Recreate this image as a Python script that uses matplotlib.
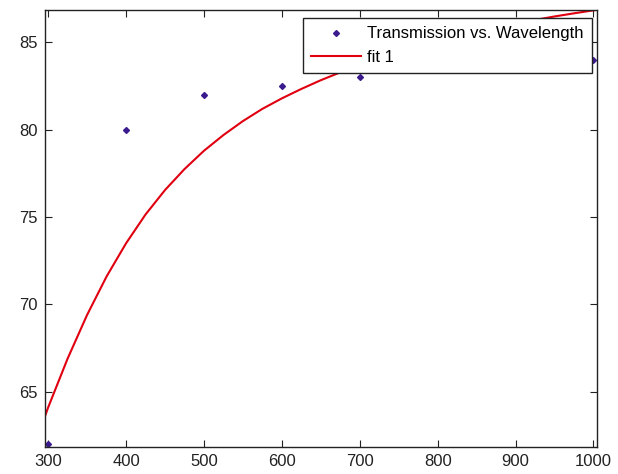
import matplotlib
matplotlib.use("Agg")
import matplotlib.pyplot as plt
from matplotlib import font_manager

# Data
wavelength = [300, 400, 500, 600, 700, 800, 900, 1000]
transmission = [62.0, 80.0, 82.0, 82.5, 83.0, 84.0, 84.5, 84.0]

# Fit curve values
fit_x = [296, 300, 325, 350, 375, 400, 425, 450, 475, 500, 525, 550, 575, 600,
         625, 650, 675, 700, 725, 750, 775, 800, 825, 850, 875, 900, 925, 950,
         975, 1000, 1005]
fit_y = [63.6, 64.1, 66.9, 69.4, 71.6, 73.5, 75.15, 76.55, 77.75, 78.8, 79.7,
         80.5, 81.2, 81.8, 82.34, 82.84, 83.29, 83.7, 84.08, 84.44, 84.77,
         85.08, 85.36, 85.62, 85.86, 86.08, 86.29, 86.49, 86.67, 86.84, 86.87]

x_ticks = [300, 400, 500, 600, 700, 800, 900, 1000]
y_ticks = [65, 70, 75, 80, 85]

names = {f.name for f in font_manager.fontManager.ttflist}
tick_font = "Liberation Sans Narrow" if "Liberation Sans Narrow" in names else "Liberation Sans"

fig = plt.figure(figsize=(6.18, 4.74), dpi=100)
ax = fig.add_axes([45/618, 1 - 447/474, (597 - 45)/618, (447 - 10)/474])

ax.plot(wavelength, transmission, linestyle="none", marker="D", markersize=3,
        color="#3a1a8c", label="Transmission vs. Wavelength")
ax.plot(fit_x, fit_y, color="#e00010", linewidth=1.5, label="fit 1")

ax.set_xlim(296, 1004.5)
ax.set_ylim(61.84, 86.86)
ax.set_xticks(x_ticks)
ax.set_yticks(y_ticks)
ax.tick_params(direction="in", top=True, right=True, length=5, width=0.8,
               labelsize=12, colors="#222222", pad=5)
for lab in ax.get_xticklabels() + ax.get_yticklabels():
    lab.set_fontfamily(tick_font)
for s in ax.spines.values():
    s.set_linewidth(1.0)
    s.set_color("#222222")

leg = ax.legend(loc="upper right", bbox_to_anchor=(592/618, 1 - 18/474),
                bbox_transform=fig.transFigure, frameon=True, fancybox=False,
                edgecolor="#222222", framealpha=1.0, borderpad=0.5,
                handlelength=3.0, handletextpad=0.35, labelspacing=0.5,
                borderaxespad=0, prop={"family": "Liberation Sans", "size": 12})
leg.get_frame().set_linewidth(1.0)

fig.savefig("out.png", dpi=100)
